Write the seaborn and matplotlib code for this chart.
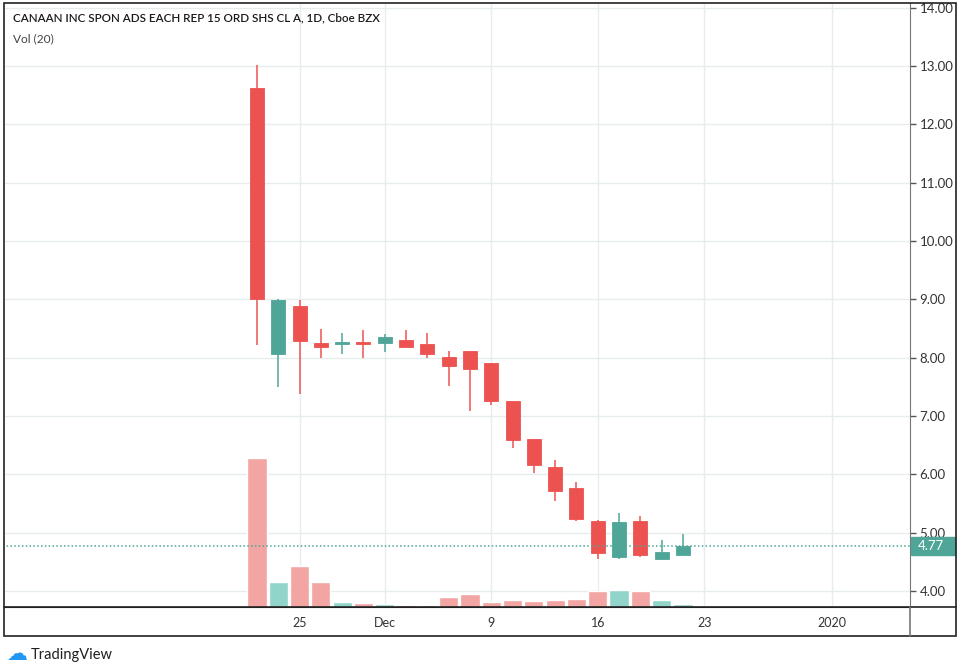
import numpy as np
import pandas as pd
import seaborn as sns
import matplotlib.pyplot as plt
import matplotlib.transforms as mtransforms
from matplotlib.lines import Line2D
from matplotlib.patches import Rectangle

# daily candles, CAN (Cboe BZX)
dates = ['2019-11-21', '2019-11-22', '2019-11-25', '2019-11-26', '2019-11-27', '2019-11-29',
         '2019-12-02', '2019-12-03', '2019-12-04', '2019-12-05', '2019-12-06',
         '2019-12-09', '2019-12-10', '2019-12-11', '2019-12-12', '2019-12-13',
         '2019-12-16', '2019-12-17', '2019-12-18', '2019-12-19', '2019-12-20']
opens = [12.62, 8.06, 8.89, 8.25, 8.24, 8.27, 8.25, 8.30, 8.23, 8.01, 8.11,
         7.90, 7.26, 6.60, 6.12, 5.76, 5.20, 4.59, 5.20, 4.55, 4.61]
highs = [13.02, 9.00, 8.99, 8.49, 8.42, 8.47, 8.41, 8.47, 8.43, 8.11, 8.11,
         7.90, 7.26, 6.60, 6.25, 5.86, 5.21, 5.33, 5.29, 4.87, 4.97]
lows = [8.22, 7.50, 7.37, 8.00, 8.06, 8.00, 8.09, 8.18, 8.00, 7.52, 7.09,
        7.18, 6.45, 6.03, 5.54, 5.20, 4.55, 4.55, 4.59, 4.54, 4.61]
closes = [9.00, 8.99, 8.29, 8.19, 8.25, 8.23, 8.35, 8.18, 8.07, 7.85, 7.80,
          7.25, 6.58, 6.16, 5.71, 5.23, 4.65, 5.19, 4.62, 4.66, 4.77]
volumes = [14.9, 2.5, 4.1, 2.5, 0.5, 0.37, 0.3, 0.2, 0.2, 1.0, 1.3,
           0.5, 0.7, 0.6, 0.7, 0.8, 1.6, 1.7, 1.6, 0.7, 0.3]  # millions

holidays = ['2019-11-28', '2019-12-25', '2020-01-01']
tick_dates = ['2019-11-25', '2019-12-02', '2019-12-09', '2019-12-16', '2019-12-23', '2020-01-02']
tick_labels = ['25', 'Dec', '9', '16', '23', '2020']
price_ticks = [4, 5, 6, 7, 8, 9, 10, 11, 12, 13, 14]
last_price = 4.77
title = 'CANAAN INC SPON ADS EACH REP 15 ORD SHS CL A, 1D, Cboe BZX'

UP = '#4fa598'
DOWN = '#ec5350'
UP_VOL = '#91d4ca'
DOWN_VOL = '#f2a5a3'

sns.set_style('white')
plt.rcParams['font.family'] = ['Lato', 'DejaVu Sans']

# trading-day index (weekends and holidays skipped, like TradingView)
cal = pd.bdate_range('2019-11-21', '2020-01-10')
cal = cal[~cal.isin(pd.to_datetime(holidays))]
pos = {d: i for i, d in enumerate(cal)}

df = pd.DataFrame({'date': pd.to_datetime(dates), 'open': opens, 'high': highs,
                   'low': lows, 'close': closes, 'vol': volumes})
df['idx'] = df['date'].map(pos)
df['dir'] = np.where(df['close'] >= df['open'], 'up', 'down')

W, H = 960, 667
fig = plt.figure(figsize=(9.6, 6.67), dpi=100)
ax = fig.add_axes([5 / W, (H - 607) / H, 905 / W, 604 / H])

# volume pane behind the candles
axv = ax.twinx()
sns.barplot(data=df, x='idx', y='vol', hue='dir', palette={'up': UP_VOL, 'down': DOWN_VOL},
            native_scale=True, dodge=False, width=0.9, saturation=1, legend=False, ax=axv)
axv.set_ylim(0, max(volumes) * 4.05)
axv.set_axis_off()
ax.set_zorder(axv.get_zorder() - 1)
axv.patch.set_visible(False)

# candles
colors = np.where(df['dir'] == 'up', UP, DOWN)
body_lo = np.minimum(df['open'], df['close'])
body_h = np.maximum((df['close'] - df['open']).abs(), 0.02)
ax.vlines(df['idx'], df['low'], df['high'], colors=colors, lw=1.1, zorder=3)
ax.bar(df['idx'], body_h, bottom=body_lo, width=0.66, color=colors,
       edgecolor=colors, lw=0.6, zorder=4)

# last price line (drawn on top of the volume bars)
axv.plot([-20, 40], [last_price, last_price], transform=ax.transData,
         color=UP, ls=(0, (1, 1.5)), lw=1.1, zorder=5)

ax.set_xlim(-11.83, 30.66)
ax.set_ylim(3.725, 14.08)
ax.set_xticks([pos[pd.Timestamp(d)] for d in tick_dates])
ax.set_xticklabels(tick_labels)
ax.set_yticks(price_ticks)
ax.set_yticklabels([f'{v:.2f}' for v in price_ticks])
ax.yaxis.tick_right()
ax.grid(True, color='#e7ecef', lw=1)
ax.set_axisbelow(True)
ax.tick_params(axis='x', direction='out', length=4, width=1, color='#333333',
               labelsize=9, labelcolor='#333333', pad=3)
ax.tick_params(axis='y', direction='out', length=4, width=1, color='#555555',
               labelsize=9.5, labelcolor='#333333', pad=3)
for side in ['top', 'left']:
    ax.spines[side].set_visible(False)
ax.spines['right'].set_color('#777777')
ax.spines['bottom'].set_color('#222222')
ax.set_xlabel('')
ax.set_ylabel('')

# last price tag on the scale
blend = mtransforms.blended_transform_factory(ax.transAxes, ax.transData)
ax.add_patch(Rectangle((1.001, last_price - 0.155), 44 / 905, 0.31, transform=blend,
                       facecolor=UP, edgecolor=UP, clip_on=False, zorder=6))
ax.text(1.0 + 8 / 905, last_price, f'{last_price:.2f}', transform=blend, ha='left',
        va='center', color='white', fontsize=9.5, zorder=7)

# frame lines
fig.add_artist(Rectangle((4 / W, (H - 636) / H), 952 / W, 633 / H, transform=fig.transFigure,
                         fill=False, edgecolor='#222222', lw=1.2))
fig.add_artist(Line2D([4 / W, 956 / W], [(H - 607) / H] * 2, transform=fig.transFigure,
                      color='#222222', lw=1.2))
fig.add_artist(Line2D([910 / W, 910 / W], [(H - 636) / H, (H - 607) / H],
                      transform=fig.transFigure, color='#777777', lw=1.2))

# header text
fig.text(13 / W, 1 - 18 / H, title, ha='left', va='center', fontsize=8.4,
         color='#1a1a1a', fontweight='semibold')
fig.text(13 / W, 1 - 39 / H, 'Vol (20)', ha='left', va='center', fontsize=8.6, color='#444444')

# TradingView mark
fig.text(7 / W, 1 - 654 / H, '\u2601', ha='left', va='center', fontsize=15,
         color='#2196f3', family=['DejaVu Sans'])
fig.text(31 / W, 1 - 655 / H, 'TradingView', ha='left', va='center', fontsize=10.5,
         color='#1f1f1f')

fig.savefig('out.png', dpi=100, facecolor='white')
